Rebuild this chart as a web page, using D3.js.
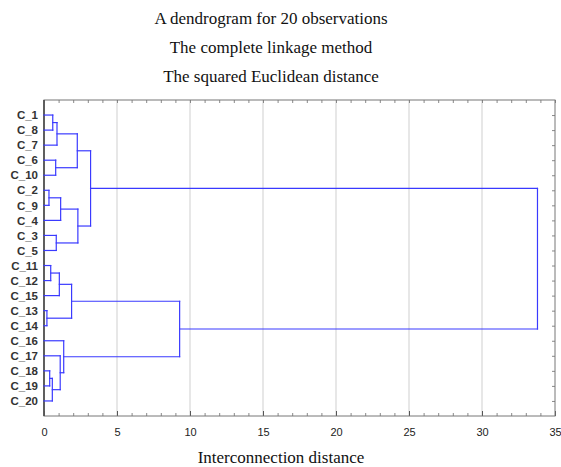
<!DOCTYPE html>
<html>
<head>
  <script src="https://d3js.org/d3.v7.min.js"></script>
  <style>
    body { margin: 0; background: #fff; overflow: hidden; }
  </style>
  <title>Dendrogram</title>
</head>
<body>
<script>
  // leaf order as drawn, top to bottom
  const leaves = ["C_1", "C_8", "C_7", "C_6", "C_10", "C_2", "C_9", "C_4", "C_3", "C_5",
                  "C_11", "C_12", "C_15", "C_13", "C_14", "C_16", "C_17", "C_18", "C_19", "C_20"];
  // linkage: ids < 20 are leaves, id 20+k is merge k
  const mergeLeft  = [13, 5, 17, 10, 22, 0, 3, 8, 25, 23, 16, 21, 15, 29, 28, 31, 34, 33, 36];
  const mergeRight = [14, 6, 18, 11, 19, 1, 4, 9, 2, 12, 24, 7, 30, 20, 26, 27, 35, 32, 37];
  const mergeHeight = [0.2, 0.34, 0.39, 0.46, 0.57, 0.6, 0.8, 0.84, 0.89, 1.05,
                       1.11, 1.14, 1.35, 1.89, 2.28, 2.32, 3.19, 9.29, 33.8];
  const xTicks = [0, 5, 10, 15, 20, 25, 30, 35];
  const titles = ["A dendrogram for 20 observations", "The complete linkage method", "The squared Euclidean distance"];

  const W = 561, H = 467;
  const mLeft = 44, mRight = 555, mTop = 100, mBottom = 416;

  const svg = d3.select("body").append("svg")
    .attr("width", W).attr("height", H);

  const x = d3.scaleLinear().domain([0, 35]).range([mLeft, mRight]);
  const y = d3.scalePoint().domain(leaves).range([mTop, mBottom]).padding(1);

  // gridlines
  svg.append("g").selectAll("line")
    .data(xTicks.filter(d => d > 0 && d < 35))
    .enter().append("line")
    .attr("x1", d => x(d)).attr("x2", d => x(d))
    .attr("y1", mTop).attr("y2", mBottom)
    .attr("stroke", "#cfcfcf").attr("stroke-width", 1);

  // bottom axis, ticks inward
  const minor = d3.range(0, 36);
  const gb = svg.append("g").attr("transform", "translate(0," + mBottom + ")");
  gb.call(d3.axisBottom(x).tickValues(minor).tickSize(-3).tickFormat(""))
    .call(g => g.select(".domain").remove())
    .selectAll("line").attr("stroke", "#888");
  const gb2 = svg.append("g").attr("transform", "translate(0," + mBottom + ")");
  gb2.call(d3.axisBottom(x).tickValues(xTicks).tickSize(-5).tickPadding(12))
    .call(g => g.select(".domain").remove());
  gb2.selectAll("line").attr("stroke", "#555");
  gb2.selectAll("text").style("font-family", "Liberation Sans, Arial, sans-serif")
    .style("font-size", "11px").attr("fill", "#222");

  // top axis ticks
  svg.append("g").attr("transform", "translate(0," + mTop + ")")
    .call(d3.axisTop(x).tickValues(minor).tickSize(-3).tickFormat(""))
    .call(g => g.select(".domain").remove())
    .selectAll("line").attr("stroke", "#888");

  // left axis with labels
  const gl = svg.append("g").attr("transform", "translate(" + mLeft + ",0)");
  gl.call(d3.axisLeft(y).tickSize(0).tickPadding(6))
    .call(g => g.select(".domain").remove());
  gl.selectAll("text").style("font-family", "Liberation Sans, Arial, sans-serif")
    .style("font-size", "11.5px").style("font-weight", "bold").attr("fill", "#333");

  // right axis ticks
  svg.append("g").attr("transform", "translate(" + mRight + ",0)")
    .call(d3.axisRight(y).tickSize(-3).tickFormat(""))
    .call(g => g.select(".domain").remove())
    .selectAll("line").attr("stroke", "#888");

  // frame
  svg.append("rect")
    .attr("x", mLeft).attr("y", mTop)
    .attr("width", mRight - mLeft).attr("height", mBottom - mTop)
    .attr("fill", "none").attr("stroke", "#777").attr("stroke-width", 1);
  svg.append("line")
    .attr("x1", mLeft).attr("x2", mLeft).attr("y1", mTop).attr("y2", mBottom)
    .attr("stroke", "#555").attr("stroke-width", 1.8);

  // dendrogram segments from the linkage
  const nodeY = leaves.map(d => y(d));
  const nodeH = leaves.map(() => 0);
  const segs = [];
  mergeLeft.forEach(function (a, i) {
    const b = mergeRight[i];
    const h = mergeHeight[i];
    segs.push([nodeH[a], nodeY[a], h, nodeY[a]]);
    segs.push([nodeH[b], nodeY[b], h, nodeY[b]]);
    segs.push([h, nodeY[a], h, nodeY[b]]);
    nodeY.push((nodeY[a] + nodeY[b]) / 2);
    nodeH.push(h);
  });

  svg.append("g").selectAll("line")
    .data(segs)
    .enter().append("line")
    .attr("x1", d => x(d[0])).attr("y1", d => d[1])
    .attr("x2", d => x(d[2])).attr("y2", d => d[3])
    .attr("stroke", "#3a3aff").attr("stroke-width", 1.2)
    .attr("stroke-linecap", "square");

  // titles
  svg.append("g").selectAll("text")
    .data(titles)
    .enter().append("text")
    .attr("x", 271).attr("y", (d, i) => 24 + i * 29)
    .attr("text-anchor", "middle")
    .style("font-family", "Liberation Serif, Times New Roman, serif")
    .style("font-size", "17px").attr("fill", "#111")
    .text(d => d);

  svg.append("text")
    .attr("x", 281).attr("y", 463)
    .attr("text-anchor", "middle")
    .style("font-family", "Liberation Serif, Times New Roman, serif")
    .style("font-size", "17px").attr("fill", "#111")
    .text("Interconnection distance");
</script>
</body>
</html>
